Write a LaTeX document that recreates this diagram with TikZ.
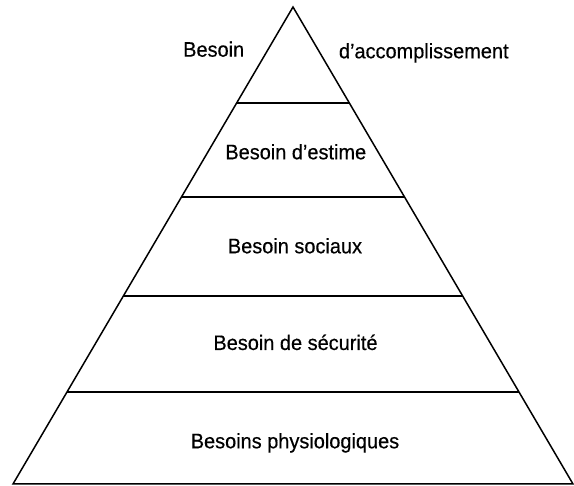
\documentclass[tikz,border=0pt]{standalone}
\usepackage{fontspec}
\setmainfont{Liberation Sans}[FakeStretch=0.95,FakeBold=0.4]
\usetikzlibrary{calc}
\begin{document}
\begin{tikzpicture}[x=1pt,y=-1pt,
  edge/.style={line width=1.5pt,black,line join=miter},
  tier/.style={line width=1.7pt,black},
  lbl/.style={anchor=base,inner sep=0pt,font=\fontsize{21}{25}\selectfont}]
\useasboundingbox (0,0) rectangle (574,486);
\fill[white] (0,0) rectangle (574,486);
% pyramid corners
\coordinate (apex) at (293,7);
\coordinate (bl) at (13,484);
\coordinate (br) at (573,484);
% tier boundaries (on the sides)
\coordinate (l1) at ($(apex)!{(103-7)/477}!(bl)$);
\coordinate (r1) at ($(apex)!{(103-7)/477}!(br)$);
\coordinate (l2) at ($(apex)!{(197-7)/477}!(bl)$);
\coordinate (r2) at ($(apex)!{(197-7)/477}!(br)$);
\coordinate (l3) at ($(apex)!{(296-7)/477}!(bl)$);
\coordinate (r3) at ($(apex)!{(296-7)/477}!(br)$);
\coordinate (l4) at ($(apex)!{(392-7)/477}!(bl)$);
\coordinate (r4) at ($(apex)!{(392-7)/477}!(br)$);
\draw[edge] (bl) -- (apex) -- (br) -- cycle;
\draw[tier] (l1) -- (r1);
\draw[tier] (l2) -- (r2);
\draw[tier] (l3) -- (r3);
\draw[tier] (l4) -- (r4);
% labels
\node[lbl] (t1a) at (213.7,56.7) {Besoin};
\node[lbl] (t1b) at (423.8,58.3) {d’accomplissement};
\node[lbl] (t2) at (295.8,159.3) {Besoin d’estime};
\node[lbl] (t3) at (295,253.3) {Besoin sociaux};
\node[lbl] (t4) at (295.5,350) {Besoin de sécurité};
\node[lbl] (t5) at (295,448.3) {Besoins physiologiques};
\end{tikzpicture}
\end{document}
